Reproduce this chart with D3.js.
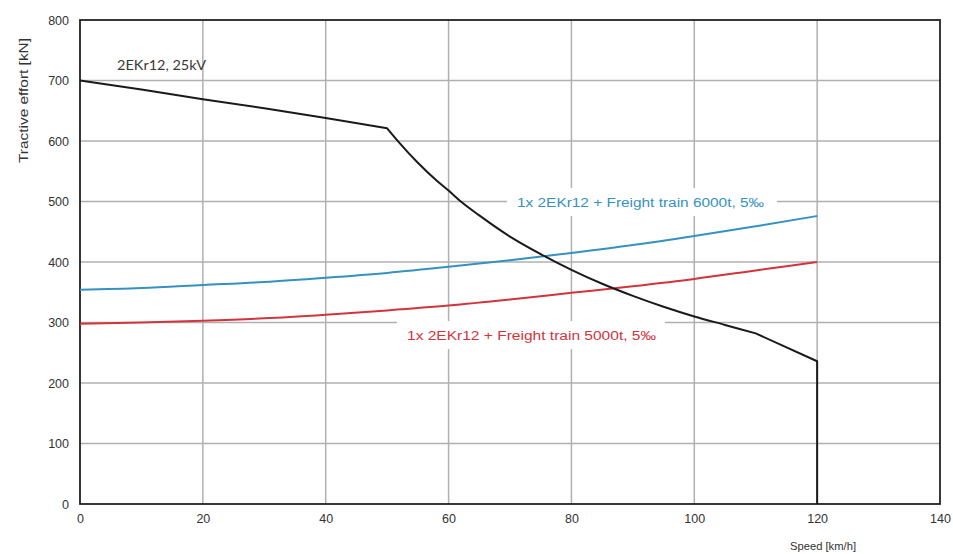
<!DOCTYPE html>
<html><head><meta charset="utf-8">
<script src="https://cdn.jsdelivr.net/npm/d3@7/dist/d3.min.js"></script>
<style>body{margin:0;background:#fff}svg{display:block}</style>
</head><body>
<svg id="c" width="953" height="554"></svg>
<script>
const xTicks = [0,20,40,60,80,100,120,140];
const yTicks = [0,100,200,300,400,500,600,700,800];
// loco tractive effort: constant-slope part, constant-power part, high-speed part with cut-off
const locoLowSpeed = [0,10,20,30,40,50];
const locoLowForce = [700,685,669,654,638,621];
const locoMidSpeed = [50,52,55,58,60,62,65,70,75,80,85,90,95,100,105,110];
const locoMidForce = [621,597,564,535,518,500,477,442,413,387,364,344,326,310,296,282];
const locoHighSpeed = [110,120,120];
const locoHighForce = [282,236,0];
const trainSpeed = [0,10,20,30,40,50,60,70,80,90,100,110,120];
const train6000 = [354,357,362,367,374,382,392,403,415,428,443,459,476];
const train5000 = [298,300,303,307,313,320,328,338,349,360,372,386,400];
const labels = {loco:"2EKr12, 25kV", t6000:"1x 2EKr12 + Freight train 6000t, 5‰", t5000:"1x 2EKr12 + Freight train 5000t, 5‰", x:"Speed [km/h]", y:"Tractive effort [kN]"};

const svg = d3.select("#c");
const L=80, R=940, T=20, B=504;
const x = d3.scaleLinear().domain([0,140]).range([L,R]);
const y = d3.scaleLinear().domain([0,800]).range([B,T]);
const FONT = "Liberation Sans, Arial, sans-serif";

// grid
const g = svg.append("g");
g.selectAll(".vx").data(xTicks.slice(1,-1)).enter().append("line")
  .attr("x1",d=>x(d)).attr("x2",d=>x(d)).attr("y1",T).attr("y2",B)
  .attr("stroke","#b0b0b0").attr("stroke-width",1.5);
g.selectAll(".hy").data(yTicks.slice(1,-1)).enter().append("line")
  .attr("y1",d=>y(d)).attr("y2",d=>y(d)).attr("x1",L).attr("x2",R)
  .attr("stroke","#b0b0b0").attr("stroke-width",1.5);

// labels with white background boxes
function boxLabel(txt, x0, x1, bx0, bx1, cy, color){
  svg.append("rect").attr("x",bx0).attr("y",cy-14).attr("width",bx1-bx0).attr("height",28).attr("fill","#fff");
  svg.append("text").attr("x",x0).attr("y",cy+4.5)
    .attr("font-family",FONT).attr("font-size",12.5)
    .attr("textLength",x1-x0).attr("lengthAdjust","spacingAndGlyphs")
    .attr("fill",color).text(txt);
}
boxLabel(labels.t6000, 517, 764, 507, 777, 202, "#3592c0");
boxLabel(labels.t5000, 407, 656, 397, 665, 335, "#d2343d");

// frame
svg.append("rect").attr("x",L).attr("y",T).attr("width",R-L).attr("height",B-T)
  .attr("fill","none").attr("stroke","#222").attr("stroke-width",1.8);

// tick labels
svg.append("g").attr("transform",`translate(0,${B})`)
  .call(d3.axisBottom(x).tickValues(xTicks).tickSize(0).tickPadding(10))
  .call(a=>a.select(".domain").remove())
  .call(a=>a.selectAll("text").attr("font-family",FONT).attr("font-size",12.5).attr("fill","#333"));
svg.append("g").attr("transform",`translate(${L},0)`)
  .call(d3.axisLeft(y).tickValues(yTicks).tickSize(0).tickPadding(11))
  .call(a=>a.select(".domain").remove())
  .call(a=>a.selectAll("text").attr("font-family",FONT).attr("font-size",12.5).attr("fill","#333"));

// lines
const lineLin = d3.line().x(d=>x(d[0])).y(d=>y(d[1]));
const lineSm = d3.line().x(d=>x(d[0])).y(d=>y(d[1])).curve(d3.curveMonotoneX);
svg.append("path").datum(trainSpeed.map((s,i)=>[s,train6000[i]])).attr("d",lineSm)
  .attr("fill","none").attr("stroke","#3592c0").attr("stroke-width",2);
svg.append("path").datum(trainSpeed.map((s,i)=>[s,train5000[i]])).attr("d",lineSm)
  .attr("fill","none").attr("stroke","#d2343d").attr("stroke-width",2);
const pts = (sx,fy)=>sx.map((s,i)=>[s,fy[i]]);
const dLoco = lineLin(pts(locoLowSpeed,locoLowForce))
  + lineSm(pts(locoMidSpeed,locoMidForce)).replace(/^M/,"L")
  + lineLin(pts(locoHighSpeed,locoHighForce)).replace(/^M/,"L");
svg.append("path").attr("d", dLoco)
  .attr("fill","none").attr("stroke","#1a1a1a").attr("stroke-width",2).attr("stroke-linejoin","round");

// texts
svg.append("text").attr("x",117).attr("y",70).attr("font-family","Lato, Open Sans, sans-serif")
  .attr("font-size",13).attr("textLength",89).attr("lengthAdjust","spacingAndGlyphs")
  .attr("fill","#3a3a3a").text(labels.loco);
svg.append("text").attr("x",790).attr("y",550).attr("textLength",66).attr("lengthAdjust","spacingAndGlyphs")
  .attr("font-family",FONT).attr("font-size",11.5).attr("fill","#333").text(labels.x);
svg.append("text").attr("transform","translate(28,163) rotate(-90)")
  .attr("textLength",125).attr("lengthAdjust","spacingAndGlyphs")
  .attr("font-family",FONT).attr("font-size",12).attr("fill","#333").text(labels.y);
</script>
</body></html>
